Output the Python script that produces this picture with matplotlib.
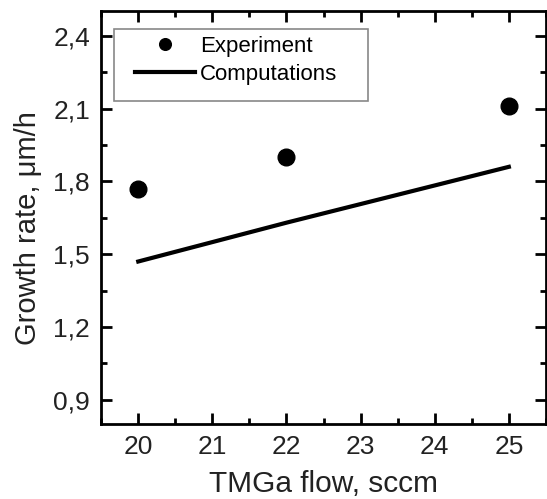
import matplotlib
matplotlib.use("Agg")
import matplotlib.pyplot as plt
from matplotlib.patches import Rectangle
from matplotlib.ticker import MultipleLocator, FuncFormatter

plt.rcParams['font.family'] = ['Liberation Sans', 'DejaVu Sans']

# Experimental data
exp_flow = [20, 22, 25]
exp_rate = [1.77, 1.90, 2.11]

# Computed growth rate
calc_flow = [20, 22, 25]
calc_rate = [1.47, 1.63, 1.86]

fig = plt.figure(figsize=(5.47, 4.99), dpi=100)
ax = fig.add_axes([0.185, 0.150, 0.813, 0.827])

ax.plot(exp_flow, exp_rate, 'o', color='black', markersize=12, label='Experiment')
ax.plot(calc_flow, calc_rate, '-', color='black', linewidth=3, label='Computations')

ax.set_xlim(19.5, 25.5)
ax.set_ylim(0.8, 2.5)
ax.xaxis.set_major_locator(MultipleLocator(1))
ax.xaxis.set_minor_locator(MultipleLocator(0.5))
ax.yaxis.set_major_locator(MultipleLocator(0.3))
ax.yaxis.set_minor_locator(MultipleLocator(0.15))
ax.yaxis.set_major_formatter(FuncFormatter(lambda v, p: f"{v:.1f}".replace('.', ',')))

ax.tick_params(which='both', direction='in', top=True, right=True, width=2,
               labelsize=19, colors='black', labelcolor='#222222')
ax.tick_params(which='major', length=8, pad=8)
ax.tick_params(which='minor', length=4)
for s in ax.spines.values():
    s.set_linewidth(2)

ax.set_xlabel('TMGa flow, sccm', fontsize=21.5, color='#222222', labelpad=8)
ax.set_ylabel('Growth rate, μm/h', fontsize=21, color='#222222')
ax.yaxis.set_label_coords(-0.133, 0.475)

# legend box drawn separately (wider than the entries)
ax.add_patch(Rectangle((0.029, 0.783), 0.571, 0.175, transform=ax.transAxes,
                       facecolor='white', edgecolor='#888888', linewidth=1.2, zorder=4))
leg = ax.legend(loc='upper left', bbox_to_anchor=(0.076, 0.94), borderaxespad=0,
                fontsize=16, frameon=False, handlelength=2.7, markerscale=0.7,
                handletextpad=0.22, borderpad=0, labelspacing=0.3)
leg.set_zorder(5)

fig.savefig('out.png', dpi=100)
